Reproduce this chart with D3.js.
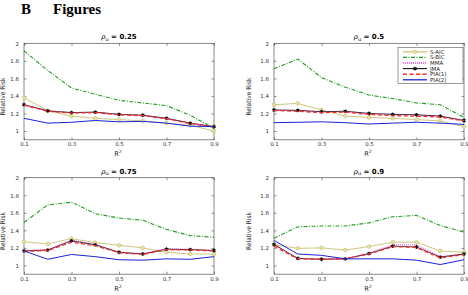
<!DOCTYPE html>
<html>
<head>
<meta charset="utf-8">
<script src="https://cdn.jsdelivr.net/npm/d3@7"></script>
<style>
  body { margin: 0; background: #fff; }
  svg { display: block; }
  .tick text { font-family: "DejaVu Sans", sans-serif; font-size: 5.5px; fill: #333; }
</style>
</head>
<body>
<svg id="chart" width="468" height="295"></svg>
<script>
// R^2 values on the x axis
var r2 = [0.1, 0.2, 0.3, 0.4, 0.5, 0.6, 0.7, 0.8, 0.9];
var rhoLabels = ["0.25", "0.5", "0.75", "0.9"];
var methods = ["S-AIC", "S-BIC", "MMA", "JMA", "PIA(1)", "PIA(2)"];
var yTicks = [1, 1.2, 1.4, 1.6, 1.8, 2];
var xTicks = [0.1, 0.3, 0.5, 0.7, 0.9];

// one row per panel (rho = 0.25, 0.5, 0.75, 0.9)
var sAIC = [
  [1.38, 1.23, 1.17, 1.145, 1.13, 1.115, 1.09, 1.065, 1.0],
  [1.30, 1.315, 1.24, 1.17, 1.155, 1.145, 1.13, 1.115, 1.05],
  [1.27, 1.245, 1.305, 1.26, 1.23, 1.20, 1.15, 1.13, 1.13],
  [1.235, 1.195, 1.20, 1.175, 1.215, 1.265, 1.265, 1.165, 1.15]
];
var sBIC = [
  [1.915, 1.69, 1.49, 1.42, 1.35, 1.32, 1.29, 1.18, 1.03],
  [1.71, 1.82, 1.61, 1.50, 1.41, 1.37, 1.32, 1.30, 1.155],
  [1.49, 1.69, 1.72, 1.59, 1.54, 1.515, 1.41, 1.34, 1.32],
  [1.31, 1.44, 1.45, 1.45, 1.485, 1.555, 1.57, 1.455, 1.38]
];
var mma = [
  [1.30, 1.23, 1.21, 1.215, 1.19, 1.18, 1.145, 1.09, 1.05],
  [1.24, 1.235, 1.22, 1.225, 1.20, 1.19, 1.185, 1.17, 1.12],
  [1.17, 1.18, 1.29, 1.24, 1.15, 1.135, 1.19, 1.185, 1.17],
  [1.24, 1.08, 1.07, 1.075, 1.14, 1.235, 1.235, 1.10, 1.13]
];
var jma = [
  [1.30, 1.23, 1.21, 1.215, 1.19, 1.18, 1.145, 1.09, 1.05],
  [1.24, 1.235, 1.22, 1.225, 1.20, 1.19, 1.185, 1.17, 1.12],
  [1.165, 1.175, 1.28, 1.235, 1.15, 1.13, 1.185, 1.18, 1.17],
  [1.24, 1.08, 1.07, 1.075, 1.135, 1.22, 1.21, 1.095, 1.13]
];
var pia1 = [
  [1.295, 1.225, 1.205, 1.21, 1.185, 1.175, 1.14, 1.085, 1.045],
  [1.235, 1.225, 1.21, 1.215, 1.19, 1.175, 1.17, 1.16, 1.115],
  [1.16, 1.17, 1.265, 1.225, 1.145, 1.125, 1.18, 1.175, 1.165],
  [1.22, 1.075, 1.07, 1.075, 1.13, 1.215, 1.205, 1.085, 1.125]
];
var pia2 = [
  [1.145, 1.09, 1.10, 1.12, 1.105, 1.11, 1.09, 1.055, 1.05],
  [1.095, 1.10, 1.105, 1.095, 1.08, 1.09, 1.10, 1.09, 1.075],
  [1.165, 1.07, 1.125, 1.10, 1.065, 1.06, 1.075, 1.07, 1.10],
  [1.285, 1.13, 1.115, 1.075, 1.075, 1.075, 1.06, 1.01, 1.065]
];

var seriesData = [sAIC, sBIC, mma, jma, pia1, pia2];
var styles = [
  { color: "#c8c070", width: 0.9, dash: null, marker: "circle" },
  { color: "#1f9e1f", width: 1.1, dash: "4,1.5,1,1.5", marker: null },
  { color: "#f040f0", width: 1, dash: "1,1", marker: null },
  { color: "#111", width: 0.8, dash: null, marker: "star" },
  { color: "#ff2a2a", width: 1.3, dash: "4,2.5", marker: null },
  { color: "#1a22dd", width: 1, dash: null, marker: null }
];

var svg = d3.select("#chart");

// section heading
svg.append("text")
  .attr("x", 21).attr("y", 13.5)
  .attr("font-family", "Liberation Serif, serif")
  .attr("font-weight", "bold").attr("font-size", 15)
  .text("B");
svg.append("text")
  .attr("x", 53).attr("y", 13.5)
  .attr("font-family", "Liberation Serif, serif")
  .attr("font-weight", "bold").attr("font-size", 15)
  .text("Figures");

var panels = [
  { left: 24, top: 43.3 },
  { left: 274, top: 43.3 },
  { left: 24, top: 177.7 },
  { left: 274, top: 177.7 }
];
var pw = 190, ph = 96.5;

panels.forEach(function (p, k) {
  var g = svg.append("g").attr("transform", `translate(${p.left}, ${p.top})`);

  var x = d3.scaleLinear().domain([0.1, 0.9]).range([0, pw]);
  var y = d3.scaleLinear().domain([0.9, 2]).range([ph, 0]);

  // inward ticks on all four sides, like MATLAB
  g.append("g")
    .attr("transform", `translate(0, ${ph})`)
    .call(d3.axisBottom(x).tickValues(xTicks).tickSize(-2.5).tickPadding(2.5).tickFormat(d3.format(".1f")))
    .call(a => a.select(".domain").remove());
  g.append("g")
    .call(d3.axisTop(x).tickValues(xTicks).tickSize(-2.5).tickFormat(""))
    .call(a => a.select(".domain").remove());
  g.append("g")
    .call(d3.axisLeft(y).tickValues(yTicks).tickSize(-2.5).tickPadding(5).tickFormat(d3.format("")))
    .call(a => a.select(".domain").remove());
  g.append("g")
    .attr("transform", `translate(${pw}, 0)`)
    .call(d3.axisRight(y).tickValues(yTicks).tickSize(-2.5).tickFormat(""))
    .call(a => a.select(".domain").remove());
  g.selectAll(".tick line").attr("stroke", "#444").attr("stroke-width", 0.6);

  g.append("rect")
    .attr("width", pw).attr("height", ph)
    .attr("fill", "none").attr("stroke", "#555").attr("stroke-width", 0.7);

  var line = d3.line().x((d, i) => x(r2[i])).y(d => y(d));

  seriesData.forEach(function (s, m) {
    var st = styles[m];
    g.append("path")
      .datum(s[k])
      .attr("d", line)
      .attr("fill", "none")
      .attr("stroke", st.color)
      .attr("stroke-width", st.width)
      .attr("stroke-dasharray", st.dash);
    if (st.marker == "circle") {
      g.selectAll(".mc" + m)
        .data(s[k])
        .join("circle")
        .attr("cx", (d, i) => x(r2[i]))
        .attr("cy", d => y(d))
        .attr("r", 1.8)
        .attr("fill", "#e8e2a8")
        .attr("stroke", st.color)
        .attr("stroke-width", 0.7);
    }
    if (st.marker == "star") {
      g.selectAll(".ms" + m)
        .data(s[k])
        .join("path")
        .attr("d", d3.symbol(d3.symbolAsterisk, 10))
        .attr("transform", (d, i) => `translate(${x(r2[i])}, ${y(d)})`)
        .attr("stroke", st.color)
        .attr("stroke-width", 1.1);
    }
  });

  // panel title
  var t = g.append("text")
    .attr("x", pw / 2).attr("y", -4)
    .attr("text-anchor", "middle")
    .attr("font-family", "DejaVu Sans, sans-serif")
    .attr("font-size", 7).attr("font-weight", "bold");
  t.append("tspan").attr("font-style", "italic").attr("font-weight", "normal").attr("font-family", "DejaVu Serif, serif").text("\u03c1");
  t.append("tspan").attr("font-size", 5).attr("dy", 1.5).attr("font-weight", "normal").text("u");
  t.append("tspan").attr("dy", -1.5).text(" = " + rhoLabels[k]);

  // axis labels
  var xl = g.append("text")
    .attr("x", pw / 2 - 1).attr("y", ph + 16.5)
    .attr("text-anchor", "middle")
    .attr("font-family", "DejaVu Sans, sans-serif")
    .attr("font-size", 6.5).attr("fill", "#222");
  xl.append("tspan").text("R");
  xl.append("tspan").attr("font-size", 4.5).attr("dy", -3).text("2");

  g.append("text")
    .attr("transform", `translate(${k % 2 == 0 ? -19 : -23}, ${ph / 2 + 5}) rotate(-90)`)
    .attr("text-anchor", "middle")
    .attr("font-family", "DejaVu Sans, sans-serif")
    .attr("font-size", 6.5).attr("fill", "#222")
    .attr("textLength", 38).attr("lengthAdjust", "spacingAndGlyphs")
    .text("Relative Risk");

  // legend only in the second panel
  if (k == 1) {
    var lg = g.append("g").attr("transform", `translate(${124}, ${4})`);
    lg.append("rect")
      .attr("width", 65).attr("height", 36)
      .attr("fill", "#fff").attr("stroke", "#555").attr("stroke-width", 0.6);
    methods.forEach(function (name, m) {
      var st = styles[m];
      var yy = 4.5 + m * 5.6;
      lg.append("line")
        .attr("x1", 5).attr("x2", 29).attr("y1", yy).attr("y2", yy)
        .attr("stroke", st.color).attr("stroke-width", st.width + 0.3)
        .attr("stroke-dasharray", st.dash);
      if (st.marker == "circle") {
        lg.append("circle").attr("cx", 17).attr("cy", yy).attr("r", 1.8)
          .attr("fill", "#e8e2a8").attr("stroke", st.color).attr("stroke-width", 0.7);
      }
      if (st.marker == "star") {
        lg.append("path").attr("d", d3.symbol(d3.symbolAsterisk, 10))
          .attr("transform", `translate(17, ${yy})`)
          .attr("stroke", st.color).attr("stroke-width", 1.1);
      }
      lg.append("text")
        .attr("x", 32).attr("y", yy + 2)
        .attr("font-family", "DejaVu Sans, sans-serif")
        .attr("font-size", 5.5).attr("fill", "#222")
        .text(name);
    });
  }
});
</script>
</body>
</html>
